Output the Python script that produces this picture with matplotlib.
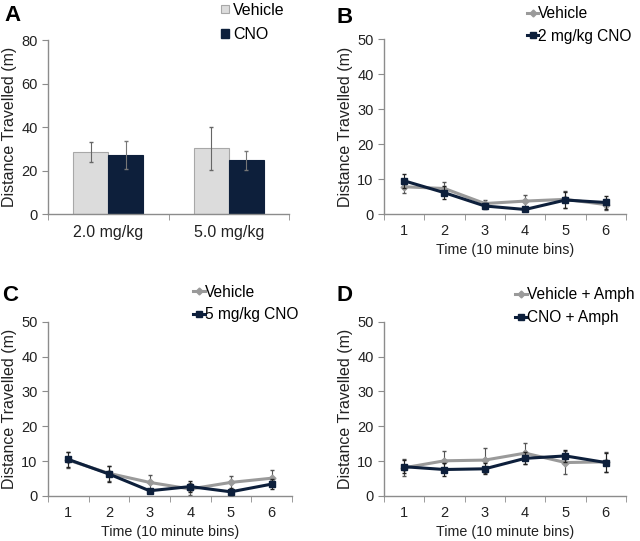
import numpy as np
import matplotlib
matplotlib.use('Agg')
import matplotlib.pyplot as plt
from matplotlib.lines import Line2D
from matplotlib.patches import Patch

plt.rcParams['font.family'] = ['Liberation Sans', 'DejaVu Sans']

# panel A
doses = ['2.0 mg/kg', '5.0 mg/kg']
veh_a = [28.5, 30.2]
veh_a_err = [4.5, 10.0]
cno_a = [27.0, 24.7]
cno_a_err = [6.5, 4.3]

bins = [1, 2, 3, 4, 5, 6]

# panel B
veh_b = [7.8, 7.3, 3.0, 3.7, 4.2, 2.7]
veh_b_err = [1.9, 1.9, 1.0, 1.7, 2.4, 1.5]
cno_b = [9.5, 6.1, 2.3, 1.3, 4.0, 3.3]
cno_b_err = [2.0, 1.8, 0.8, 0.5, 2.4, 1.8]

# panel C
veh_c = [10.3, 6.5, 3.9, 2.0, 3.9, 5.1]
veh_c_err = [2.3, 2.2, 2.2, 1.8, 1.8, 2.3]
cno_c = [10.5, 6.3, 1.5, 2.7, 1.2, 3.4]
cno_c_err = [2.2, 2.2, 0.6, 1.5, 1.0, 1.4]

# panel D
veh_d = [8.1, 10.1, 10.3, 12.3, 9.6, 9.8]
veh_d_err = [2.4, 2.8, 3.6, 3.0, 3.4, 2.9]
cno_d = [8.4, 7.6, 7.8, 10.8, 11.5, 9.6]
cno_d_err = [1.8, 1.8, 1.6, 1.7, 1.7, 2.6]

navy = '#0d1f3b'
grey = '#9a9a9a'
axcol = '#8c8c8c'
txt = '#222222'

fig = plt.figure(figsize=(6.4, 5.41), dpi=100)


def style(ax):
    for s in ['top', 'right']:
        ax.spines[s].set_visible(False)
    for s in ['left', 'bottom']:
        ax.spines[s].set_color(axcol)
        ax.spines[s].set_linewidth(1.0)
    ax.tick_params(axis='y', colors=axcol, labelcolor=txt, labelsize=10.5, length=4)
    ax.set_ylabel('Distance Travelled (m)', fontsize=11.5, color=txt, labelpad=3)


def line_panel(rect, veh, veh_err, cno, cno_err, labels, leg_xy, letter, letter_xy):
    ax = fig.add_axes(rect)
    ax.errorbar(bins, veh, yerr=veh_err, color=grey, lw=2.2, marker='D', ms=3.5,
                ecolor='#555555', elinewidth=0.8, capsize=1.5, zorder=2)
    ax.errorbar(bins, cno, yerr=cno_err, color=navy, lw=2.2, marker='s', ms=4.5,
                ecolor='#222222', elinewidth=0.8, capsize=1.5, zorder=3)
    style(ax)
    ax.set_ylim(0, 50)
    ax.set_yticks(range(0, 51, 10))
    ax.set_xlim(0.5, 6.5)
    ax.set_xticks(bins)
    ax.set_xticks(np.arange(0.5, 7, 1), minor=True)
    ax.tick_params(axis='x', which='major', length=0, labelsize=10.5, pad=7, labelcolor=txt)
    ax.tick_params(axis='x', which='minor', length=4, colors=axcol)
    ax.set_xlabel('Time (10 minute bins)', fontsize=10.3, color=txt, labelpad=4)
    handles = [Line2D([], [], color=grey, lw=2.2, marker='D', ms=3.5),
               Line2D([], [], color=navy, lw=2.2, marker='s', ms=4.5)]
    ax.legend(handles, labels, loc='upper left', bbox_to_anchor=leg_xy,
              bbox_transform=fig.transFigure, frameon=False, fontsize=11.2,
              handlelength=0.75, handletextpad=0.0, labelspacing=0.5,
              borderaxespad=0, borderpad=0)
    fig.text(letter_xy[0], letter_xy[1], letter, fontsize=16, fontweight='bold', va='center')
    return ax


# A
axA = fig.add_axes([0.075, 0.6044, 0.377, 0.3216])
x = np.arange(len(doses))
w = 0.29
axA.bar(x - w / 2, veh_a, w, yerr=veh_a_err, color='#dcdcdc', edgecolor='#a8a8a8',
        linewidth=0.8, ecolor='#666666', error_kw=dict(elinewidth=0.8, capsize=1.5))
axA.bar(x + w / 2, cno_a, w, yerr=cno_a_err, color=navy, edgecolor=navy,
        linewidth=0.8, ecolor='#777777', error_kw=dict(elinewidth=0.8, capsize=1.5))
style(axA)
axA.set_ylim(0, 80)
axA.set_yticks(range(0, 81, 20))
axA.set_xlim(-0.5, 1.5)
axA.set_xticks(x)
axA.set_xticklabels(doses)
axA.set_xticks([-0.5, 0.5, 1.5], minor=True)
axA.tick_params(axis='x', which='major', length=0, labelsize=11.5, pad=8, labelcolor=txt)
axA.tick_params(axis='x', which='minor', length=4, colors=axcol)
handlesA = [Patch(facecolor='#dcdcdc', edgecolor='#a8a8a8', linewidth=0.8),
            Patch(facecolor=navy, edgecolor=navy)]
axA.legend(handlesA, ['Vehicle', 'CNO'], loc='upper left', bbox_to_anchor=(0.346, 0.995),
           bbox_transform=fig.transFigure, frameon=False, fontsize=11.5,
           handlelength=0.45, handleheight=0.45, handletextpad=0.3,
           labelspacing=0.6, borderaxespad=0, borderpad=0)
fig.text(0.007, 0.972, 'A', fontsize=16, fontweight='bold', va='center')

line_panel([0.6, 0.6044, 0.378, 0.3229], veh_b, veh_b_err, cno_b, cno_b_err,
           ['Vehicle', '2 mg/kg CNO'], (0.823, 0.989), 'B', (0.526, 0.967))
line_panel([0.075, 0.0832, 0.381, 0.322], veh_c, veh_c_err, cno_c, cno_c_err,
           ['Vehicle', '5 mg/kg CNO'], (0.302, 0.474), 'C', (0.004, 0.453))
line_panel([0.6, 0.0832, 0.378, 0.322], veh_d, veh_d_err, cno_d, cno_d_err,
           ['Vehicle + Amph', 'CNO + Amph'], (0.805, 0.469), 'D', (0.526, 0.453))

fig.savefig('out.png', dpi=100)
